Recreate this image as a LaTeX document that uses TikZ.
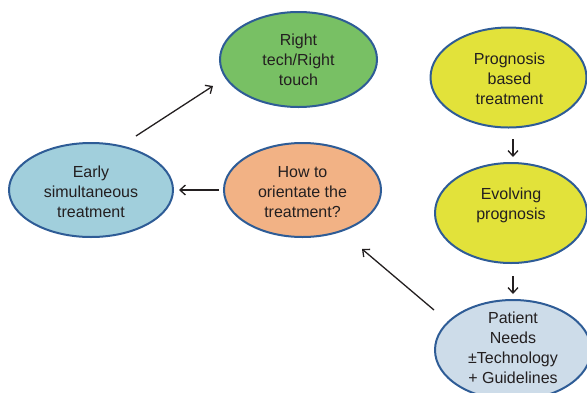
\documentclass[tikz,border=0pt]{standalone}
\usepackage{fontspec}
\setmainfont{Liberation Sans}
\usetikzlibrary{shapes.geometric,arrows.meta}
\definecolor{edgeblue}{RGB}{46,92,150}
\definecolor{leafgreen}{RGB}{120,192,100}
\definecolor{skyblue}{RGB}{161,207,220}
\definecolor{peach}{RGB}{242,178,133}
\definecolor{lime}{RGB}{226,226,58}
\definecolor{paleblue}{RGB}{205,220,233}
\definecolor{ink}{RGB}{35,31,32}
\begin{document}
\begin{tikzpicture}[x=1pt,y=-1pt,
  bubble/.style={ellipse, draw=edgeblue, line width=2pt, inner sep=0pt},
  words/.style={text=ink, align=center, inner sep=0pt, font=\fontsize{16}{20}\selectfont},
  arr/.style={draw=ink, line width=1.3pt, -{Straight Barb[length=5.5pt,width=10pt]}}]
\useasboundingbox (0,0) rectangle (587,392);

% ellipses
\node[bubble, fill=leafgreen, minimum width=157pt, minimum height=95pt] (right) at (298.5,59.5) {};
\node[bubble, fill=skyblue, minimum width=164pt, minimum height=94pt] (early) at (91,190) {};
\node[bubble, fill=peach, minimum width=157pt, minimum height=94pt] (orient) at (302.5,190) {};
\node[bubble, fill=lime, minimum width=156pt, minimum height=100pt] (prog) at (508.5,77.5) {};
\node[bubble, fill=lime, minimum width=152pt, minimum height=100pt] (evolv) at (511,213) {};
\node[bubble, fill=paleblue, minimum width=156pt, minimum height=100pt] (patient) at (513,350) {};

% labels
\node[words] (righttxt) at (298.5,60) {Right\\tech/Right\\touch};
\node[words] (earlytxt) at (91,192) {Early\\simultaneous\\treatment};
\node[words] (orienttxt) at (302.5,192) {How to\\orientate the\\treatment?};
\node[words] (progtxt) at (509.5,78.5) {Prognosis\\based\\treatment};
\node[words] (evolvtxt) at (511,205) {Evolving\\prognosis};
\node[words] (patienttxt) at (513,348) {Patient\\Needs\\±Technology\\+ Guidelines};

% connectors
\draw[arr] ([shift={(45,-6)}]early.north) -- ([shift={(-6,26.5)}]right.west);
\draw[arr, shorten <=4pt, shorten >=5pt] (orient.west) -- (early.east);
\draw[arr, shorten <=10.5pt, shorten >=5pt] (prog.south -| patient.center) -- (evolv.north -| patient.center);
\draw[arr, shorten <=12pt, shorten >=5pt] (evolv.south -| patient.center) -- (patient.north);
\draw[arr] ([shift={(0,-40)}]patient.west) -- ([shift={(59.5,11)}]orient.south);
\end{tikzpicture}
\end{document}
